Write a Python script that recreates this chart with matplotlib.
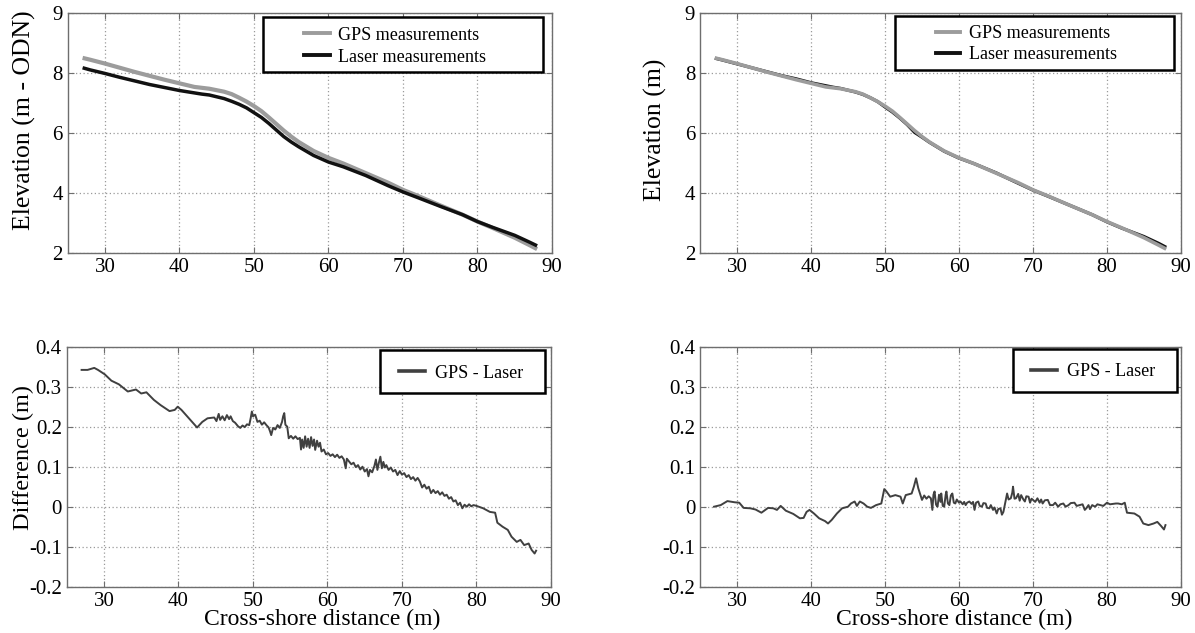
import matplotlib
matplotlib.use("Agg")
import matplotlib.pyplot as plt
from matplotlib.lines import Line2D
from matplotlib.patches import Rectangle

plt.rcParams['font.family'] = ['Liberation Serif', 'DejaVu Serif']

# ---------------- data ----------------
prof_x = [27, 28, 30, 32, 34, 36, 38, 40, 42, 43, 44, 46, 47, 48, 49, 50,
          51, 52, 53, 54, 55, 56, 58, 60, 62, 65, 68, 70, 72, 75, 78, 80,
          82, 85, 87, 88]
gps_z = [8.51, 8.45, 8.32, 8.18, 8.04, 7.91, 7.78, 7.66, 7.54, 7.51, 7.48, 7.38,
         7.30, 7.18, 7.05, 6.90, 6.73, 6.52, 6.30, 6.08, 5.88, 5.70, 5.40, 5.17,
         4.98, 4.66, 4.34, 4.10, 3.90, 3.58, 3.27, 3.04, 2.83, 2.50, 2.25, 2.12]
laser_odn_z = [8.18, 8.11, 7.99, 7.86, 7.74, 7.62, 7.52, 7.42, 7.34, 7.30, 7.27, 7.15,
               7.06, 6.96, 6.84, 6.68, 6.52, 6.32, 6.10, 5.88, 5.70, 5.54, 5.25, 5.03,
               4.87, 4.58, 4.24, 4.03, 3.84, 3.55, 3.27, 3.04, 2.85, 2.58, 2.35, 2.23]
laser_corr_z = [8.50, 8.44, 8.31, 8.18, 8.05, 7.92, 7.81, 7.68, 7.58, 7.53, 7.49, 7.37,
                7.29, 7.18, 7.05, 6.87, 6.70, 6.50, 6.28, 6.02, 5.86, 5.69, 5.39, 5.16,
                4.98, 4.67, 4.32, 4.09, 3.89, 3.58, 3.27, 3.03, 2.82, 2.54, 2.31, 2.18]

diff1_x = [27.0, 27.8, 28.7, 29.2, 30.1, 31.0, 32.0, 33.2, 34.3, 35.0,
           35.7, 36.7, 37.6, 38.8, 39.5, 39.9, 40.4, 41.3, 42.5, 43.2,
           43.9,
           44.8, 45.1, 45.4, 45.6, 45.9, 46.2, 46.5, 46.8, 47.0, 47.3,
           47.6, 48.0, 48.3, 48.6, 48.9, 49.2, 49.5, 49.7, 49.85, 50.0,
           50.3, 50.6, 50.9, 51.2, 51.5, 51.8, 52.1, 52.3, 52.45, 52.7,
           53.0, 53.3, 53.6, 53.9, 54.05, 54.2, 54.35, 54.6, 54.8, 55.1,
           55.4, 55.7, 56.0, 56.3, 56.45, 56.6, 56.8, 57.0, 57.2, 57.4,
           57.6, 57.8, 58.0, 58.2, 58.35, 58.6, 58.8, 59.0, 59.2, 59.5,
           59.8, 60.1, 60.4, 60.7, 61.0, 61.3, 61.6, 61.9, 62.2, 62.45,
           62.6, 62.9, 63.2, 63.5, 63.8, 64.1, 64.4, 64.7, 65.0, 65.3,
           65.5, 65.7, 66.0, 66.3, 66.5, 66.7, 66.9, 67.1, 67.3, 67.5,
           67.7, 67.9, 68.2, 68.5, 68.8, 69.1, 69.4, 69.7, 70.0, 70.3,
           70.6, 70.9, 71.2, 71.5, 71.8, 72.1, 72.4, 72.7, 73.0, 73.3,
           73.6, 73.9, 74.2, 74.5, 74.8, 75.1, 75.4, 75.7, 76.0, 76.3,
           76.6, 76.9, 77.2, 77.5, 77.8, 78.1, 78.4, 78.7, 79.0, 79.3,
           79.6, 80.0,
           80.9, 81.8, 82.5, 82.8, 83.5, 84.2, 84.7, 85.4, 85.9, 86.4,
           87.0, 87.4, 87.8, 88.0]
diff1_y = [0.342, 0.342, 0.347, 0.342, 0.331, 0.315, 0.306, 0.288, 0.293, 0.283,
           0.286, 0.267, 0.254, 0.239, 0.242, 0.250, 0.242, 0.223, 0.198, 0.212,
           0.221,
           0.223, 0.214, 0.232, 0.217, 0.226, 0.216, 0.229, 0.219, 0.226, 0.214,
           0.210, 0.201, 0.197, 0.203, 0.199, 0.206, 0.204, 0.222, 0.238, 0.226,
           0.230, 0.212, 0.215, 0.205, 0.211, 0.204, 0.198, 0.188, 0.179, 0.197,
           0.193, 0.204, 0.197, 0.212, 0.226, 0.234, 0.205, 0.200, 0.171, 0.177,
           0.170, 0.176, 0.169, 0.172, 0.143, 0.168, 0.147, 0.176, 0.150, 0.170,
           0.147, 0.174, 0.152, 0.168, 0.142, 0.165, 0.150, 0.160, 0.138, 0.143,
           0.131, 0.134, 0.127, 0.131, 0.124, 0.130, 0.122, 0.126, 0.118, 0.096,
           0.120, 0.113, 0.106, 0.110, 0.099, 0.104, 0.093, 0.100, 0.088, 0.094,
           0.076, 0.092, 0.086, 0.102, 0.118, 0.092, 0.110, 0.125, 0.096, 0.112,
           0.098, 0.104, 0.092, 0.098, 0.088, 0.092, 0.079, 0.089, 0.080, 0.084,
           0.074, 0.079, 0.069, 0.074, 0.065, 0.072, 0.063, 0.048, 0.055, 0.045,
           0.050, 0.034, 0.042, 0.034, 0.039, 0.030, 0.036, 0.027, 0.030, 0.020,
           0.024, 0.013, 0.016, 0.004, 0.010, -0.004, 0.005, 0.000, 0.006, 0.001,
           0.004, 0.002,
           -0.004, -0.013, -0.015, -0.040, -0.050, -0.058, -0.075, -0.088, -0.083, -0.096,
           -0.092, -0.108, -0.117, -0.110]

diff2_x = [26.9, 27.8, 28.7, 29.7, 30.3, 30.9, 31.8, 32.5, 33.3, 34.2,
           34.9, 35.4, 35.9, 36.6, 37.6, 38.5, 39.0, 39.4, 39.8, 40.4,
           41.1, 41.9, 42.3, 42.8, 43.5, 44.2, 45.0, 45.4, 45.9, 46.2,
           46.6, 47.1, 47.6, 48.1, 48.8, 49.5, 49.9, 50.2, 50.7, 51.4,
           52.1, 52.4, 52.8, 53.6, 53.9, 54.2, 54.5,
           55.0, 55.3, 55.6, 55.9, 56.2, 56.4, 56.55, 56.7, 56.9, 57.1,
           57.3, 57.5, 57.6, 57.8, 58.0, 58.2, 58.3, 58.5, 58.7, 58.9,
           59.1, 59.3, 59.5, 59.7, 60.0, 60.2, 60.5, 60.7, 60.9, 61.1,
           61.4, 61.7, 61.9, 62.1, 62.3, 62.6, 62.8, 63.1, 63.3, 63.6,
           63.8, 64.1, 64.3, 64.6, 64.8, 65.1, 65.3, 65.6, 65.8, 66.0,
           66.2, 66.5, 66.7, 67.0, 67.2, 67.3, 67.5, 67.7, 68.0, 68.2,
           68.4, 68.7, 68.9, 69.1, 69.4, 69.6, 69.8, 70.0, 70.3, 70.6,
           70.9, 71.1, 71.3, 71.6, 72.0, 72.3, 72.7, 73.0, 73.4, 73.7,
           74.1, 74.4, 74.8, 75.1, 75.6, 75.9, 76.3, 76.7, 77.0, 77.2,
           77.5, 77.7, 78.0, 78.4, 78.7, 79.1, 79.5, 80.0, 80.4, 80.8,
           81.2, 81.5, 82.0, 82.4,
           82.7, 83.7, 84.4, 84.9, 85.6, 86.3, 86.8, 87.3, 87.7, 87.9]
diff2_y = [0.000, 0.004, 0.014, 0.011, 0.010, -0.003, -0.004, -0.007, -0.015, -0.003,
           -0.004, -0.008, 0.002, -0.010, -0.018, -0.029, -0.028, -0.013, -0.008, -0.017,
           -0.029, -0.036, -0.042, -0.033, -0.017, -0.004, 0.000, 0.008, 0.013, 0.002,
           0.013, 0.008, 0.000, -0.003, 0.004, 0.008, 0.044, 0.038, 0.025, 0.029,
           0.025, 0.008, 0.029, 0.033, 0.050, 0.071, 0.046,
           0.017, 0.028, 0.020, 0.026, 0.021, -0.008, 0.030, 0.038, 0.005, 0.000,
           0.030, 0.012, 0.033, 0.002, 0.000, 0.030, 0.038, 0.008, 0.004, 0.028,
           0.033, 0.010, 0.008, 0.018, 0.010, 0.013, 0.006, 0.012, 0.004, 0.010,
           0.013, 0.007, 0.012, -0.008, 0.010, 0.013, 0.002, 0.000, 0.009, 0.008,
           -0.003, -0.004, 0.004, -0.008, -0.002, -0.017, -0.006, -0.004, -0.020, -0.013,
           0.005, 0.033, 0.018, 0.021, 0.035, 0.050, 0.020, 0.021, 0.032, 0.015,
           0.029, 0.018, 0.013, 0.026, 0.025, 0.010, 0.020, 0.017, 0.012, 0.021,
           0.010, 0.018, 0.008, 0.016, 0.017, 0.004, 0.004, 0.010, 0.000, 0.006,
           0.008, 0.000, 0.004, 0.009, 0.010, 0.002, 0.004, 0.006, -0.008, -0.004,
           0.004, -0.006, 0.004, 0.000, 0.006, 0.004, 0.002, 0.010, 0.006, 0.007,
           0.008, 0.008, 0.006, 0.010,
           -0.015, -0.017, -0.025, -0.042, -0.046, -0.042, -0.038, -0.048, -0.057, -0.046]

x_ticks = [30, 40, 50, 60, 70, 80, 90]
elev_ticks = [2, 4, 6, 8, 10]
elev_labels = ['2', '4', '6', '8', '9']
diff_ticks = [-0.2, -0.1, 0, 0.1, 0.2, 0.3, 0.4]
diff_labels = ['-0.2', '-0.1', '0', '0.1', '0.2', '0.3', '0.4']

# ---------------- figure ----------------
W, H = 1195, 633
fig = plt.figure(figsize=(W / 100, H / 100), dpi=100)

SPINE = '#6e6e6e'
GRID = '#9a9a9a'
GPS_C = '#9c9c9c'
LAS_C = '#111111'
DIF_C = '#404040'


def make_axes(l, t, r, b):
    ax = fig.add_axes([l / W, 1 - b / H, (r - l) / W, (b - t) / H])
    ax._px = (l, t, r, b)
    return ax


def fx(ax, px):
    l, t, r, b = ax._px
    return (px - l) / (r - l)


def fy(ax, py):
    l, t, r, b = ax._px
    return 1 - (py - t) / (b - t)


def style(ax, ylim, yticks, ylabels):
    ax.set_xlim(25, 90)
    ax.set_ylim(*ylim)
    ax.set_xticks(x_ticks)
    ax.set_yticks(yticks)
    ax.set_yticklabels(ylabels)
    ax.grid(True, linestyle=(0, (1, 2)), color=GRID, linewidth=0.9)
    for s in ax.spines.values():
        s.set_color(SPINE)
        s.set_linewidth(1.0)
    ax.tick_params(direction='in', length=4, color=SPINE, labelsize=15,
                   top=True, right=True, pad=3.5)


def legend(ax, handles, labels, frame_px, hx_px, ytop_px, hl, htp, ls):
    x0, y0, x1, y1 = frame_px
    ax.add_patch(Rectangle((fx(ax, x0), fy(ax, y1)), fx(ax, x1) - fx(ax, x0),
                           fy(ax, y0) - fy(ax, y1), transform=ax.transAxes,
                           facecolor='white', edgecolor='black', lw=1.8,
                           zorder=4.5, clip_on=False))
    lg = ax.legend(handles, labels, loc='upper left',
                   bbox_to_anchor=(fx(ax, hx_px), fy(ax, ytop_px)),
                   fontsize=13, frameon=False, handlelength=hl,
                   handletextpad=htp, borderpad=0, labelspacing=ls,
                   borderaxespad=0)
    lg.set_zorder(5)
    return lg


def ylabel(ax, text, cx_px, cy_px, fs):
    ax.set_ylabel(text, fontsize=fs)
    ax.yaxis.set_label_coords(fx(ax, cx_px + 12), fy(ax, cy_px))


def xlabel(ax, text, cx_px, top_px, fs):
    ax.set_xlabel(text, fontsize=fs)
    ax.xaxis.set_label_coords(fx(ax, cx_px), fy(ax, top_px))


h = [Line2D([], [], color=GPS_C, lw=2.8), Line2D([], [], color=LAS_C, lw=2.8)]
hd = [Line2D([], [], color=DIF_C, lw=2.6)]

# top-left
ax1 = make_axes(67.7, 13.3, 552, 252.7)
ax1.plot(prof_x, gps_z, color=GPS_C, lw=3.0, solid_capstyle='butt')
ax1.plot(prof_x, laser_odn_z, color=LAS_C, lw=2.5, solid_capstyle='butt')
style(ax1, (2, 10), elev_ticks, elev_labels)
ylabel(ax1, 'Elevation (m - ODN)', 24, 120, 18.5)
legend(ax1, h, ['GPS measurements', 'Laser measurements'],
       (263, 17.3, 543, 71.7), 304, 26.5, 1.44, 0.44, 0.28)

# top-right
ax2 = make_axes(700, 13.3, 1181, 252.7)
ax2.plot(prof_x, laser_corr_z, color=LAS_C, lw=2.3, solid_capstyle='butt')
ax2.plot(prof_x, gps_z, color=GPS_C, lw=2.6, solid_capstyle='butt')
style(ax2, (2, 10), elev_ticks, elev_labels)
ylabel(ax2, 'Elevation (m)', 655, 130, 18.5)
legend(ax2, h, ['GPS measurements', 'Laser measurements'],
       (895, 16, 1174, 70), 936, 25, 1.33, 0.5, 0.22)

# bottom-left
ax3 = make_axes(66.7, 346.7, 551, 586.7)
ax3.plot(diff1_x, diff1_y, color=DIF_C, lw=1.4)
style(ax3, (-0.2, 0.4), diff_ticks, diff_labels)
ylabel(ax3, 'Difference (m)', 21.7, 458, 17.5)
xlabel(ax3, 'Cross-shore distance (m)', 322, 609, 17)
legend(ax3, hd, ['GPS - Laser'], (380, 350, 545, 392.7), 399, 364.5, 1.44, 0.55, 0.1)

# bottom-right
ax4 = make_axes(700, 346.7, 1181, 586.7)
ax4.plot(diff2_x, diff2_y, color=DIF_C, lw=1.4)
style(ax4, (-0.2, 0.4), diff_ticks, diff_labels)
xlabel(ax4, 'Cross-shore distance (m)', 954, 609, 17)
legend(ax4, hd, ['GPS - Laser'], (1013, 349, 1177, 392), 1031, 363.5, 1.44, 0.55, 0.1)

fig.savefig('out.png', dpi=100)
